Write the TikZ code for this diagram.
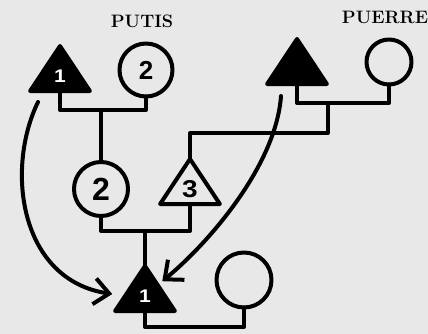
\documentclass[tikz,border=0pt]{standalone}
\usepackage{fontspec}
\newfontfamily\digitfont{Liberation Sans}
\usetikzlibrary{shapes.geometric,arrows.meta}

\begin{document}
\begin{tikzpicture}[x=1pt,y=-1pt,line width=4pt,line join=round,line cap=round]
    \tikzstyle{man}=[regular polygon,regular polygon sides=3,draw,fill=black,text=white,inner sep=0pt,outer sep=0pt,minimum size=69pt,yscale=0.87,transform shape,font=\digitfont\bfseries\fontsize{21}{21}\selectfont];
    \tikzstyle{woman}=[circle,draw,inner sep=0pt,outer sep=0pt,font=\digitfont\bfseries\fontsize{26}{26}\selectfont];
    \tikzstyle{family}=[font=\bfseries\fontsize{18}{18}\selectfont];
    \tikzstyle{ref}=[-{Straight Barb[length=15pt,width=26pt]}];

    \fill[black!9] (0,0) rectangle (428,334);
    \useasboundingbox (0,0) rectangle (428,334);

    \node at (142,21)  (putis)  [family] {PUTIS};
    \node at (385,17)  (puerre) [family] {PUERRE};

    \node at (60,76)   (tA) [man] {1};
    \node at (146,70)  (cB) [woman,minimum size=53pt] {2};
    \node at (297,69)  (tB) [man] {};
    \node at (389,62)  (cD) [woman,minimum size=45pt] {};
    \node at (101,189) (cC) [woman,minimum size=54pt,font=\digitfont\bfseries\fontsize{32}{32}\selectfont] {2};
    \node at (190,189) (tC) [man,fill=none,text=black,font=\digitfont\bfseries\fontsize{28}{28}\selectfont] {3};
    \node at (145,296) (tD) [man] {1};
    \node at (244,280) (cE) [woman,minimum size=55pt] {};

    % marriages and descent
    \draw (tA.south) -- ++(0,19) coordinate (mA) -| (cB.south);
    \draw (cC.north) -- (cC.north |- mA);
    \draw (tB.south) -- ++(0,19) coordinate (mB) -| (cD.south);
    \coordinate (dB) at (328,103);
    \draw (dB) -- ++(0,30) -| (tC.north);
    \draw (cC.south) -- ++(0,15) coordinate (mC) -| (tC.south);
    \draw (tD.north) -- (tD.north |- mC);
    \draw (tD.south) -- ++(0,16) -| (cE.south);

    % arrows
    \coordinate (a1) at (38,102);
    \coordinate (a2) at (281,96);
    \draw[ref,shorten >=13pt] (a1) .. controls +(-33,68) and +(-105,-16) .. (tD.west);
    \draw[ref,shorten >=6pt] (a2) .. controls +(-5,70) and +(50,-41) .. (tD.north east);
\end{tikzpicture}
\end{document}
